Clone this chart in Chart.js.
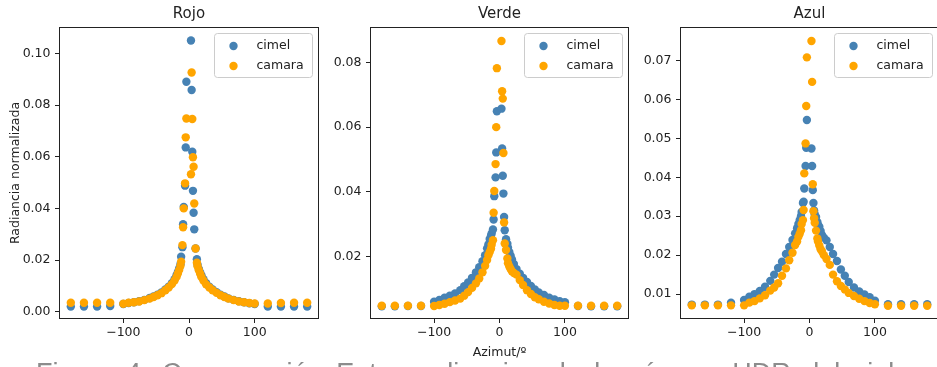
<!DOCTYPE html>
<html>
<head>
<meta charset="utf-8">
<script src="https://cdn.jsdelivr.net/npm/chart.js@4.4.1/dist/chart.umd.min.js"></script>
<style>
html, body { margin: 0; padding: 0; background: #fff; overflow: hidden; width: 937px; height: 367px; }
canvas { position: absolute; top: 0; }
.caption { position: absolute; left: 36px; top: 360px; font: 27px "Liberation Sans", sans-serif; color: #8c8c8c; white-space: nowrap; line-height: 27px; word-spacing: 6px; }
</style>
</head>
<body>
<canvas id="rojo" width="330" height="367" style="left:0px"></canvas>
<canvas id="verde" width="310" height="367" style="left:330px"></canvas>
<canvas id="azul" width="310" height="367" style="left:640px"></canvas>
<div class="caption">Figura 4. Comparación Entre radiancias de la cámara HDR del cielo y cimel</div>
<script>
// azimut (grados), compartido por los tres paneles
const azimut = [-180, -160, -140, -120, -100, -92, -84, -76, -68, -60, -54, -48, -42, -36, -31, -26, -22, -19, -17, -15, -13, -12, -10, -9, -8, -6, -5, -4,
  3, 4, 5, 6, 7, 8, 10, 12, 13, 15, 17, 19, 22, 26, 31, 36, 42, 48, 54, 60, 68, 76, 84, 92, 100, 120, 140, 160, 180];

const rojoCimel = [0.0020, 0.0020, 0.0020, 0.0022, 0.0030, 0.0034, 0.0037, 0.0041, 0.0046, 0.0053, 0.0059, 0.0066, 0.0075, 0.0086, 0.0097, 0.0111, 0.0126, 0.0141, 0.0153, 0.0168, 0.0184, 0.0213, 0.0250, 0.0339, 0.0406, 0.0488, 0.0636, 0.0890,
  0.1050, 0.0858, 0.0619, 0.0468, 0.0383, 0.0319, 0.0245, 0.0203, 0.0182, 0.0166, 0.0152, 0.0140, 0.0126, 0.0111, 0.0097, 0.0086, 0.0076, 0.0066, 0.0059, 0.0052, 0.0046, 0.0041, 0.0037, 0.0033, 0.0030, 0.0020, 0.0020, 0.0020, 0.0020];
const rojoCamara = [0.0035, 0.0035, 0.0035, 0.0035, 0.0031, 0.0035, 0.0037, 0.0040, 0.0045, 0.0051, 0.0057, 0.0064, 0.0072, 0.0083, 0.0094, 0.0107, 0.0121, 0.0135, 0.0148, 0.0162, 0.0178, 0.0194, 0.0258, 0.0327, 0.0400, 0.0497, 0.0675, 0.0748,
  0.0532, 0.0926, 0.0746, 0.0598, 0.0561, 0.0419, 0.0245, 0.0190, 0.0176, 0.0161, 0.0147, 0.0134, 0.0121, 0.0106, 0.0094, 0.0083, 0.0073, 0.0064, 0.0057, 0.0051, 0.0045, 0.0040, 0.0037, 0.0034, 0.0032, 0.0032, 0.0034, 0.0035, 0.0035];

const verdeCimel = [0.0047, 0.0047, 0.0048, 0.0048, 0.0061, 0.0067, 0.0074, 0.0080, 0.0087, 0.0097, 0.0109, 0.0121, 0.0135, 0.0152, 0.0168, 0.0186, 0.0205, 0.0226, 0.0238, 0.0255, 0.0265, 0.0272, 0.0284, 0.0315, 0.0387, 0.0445, 0.0522, 0.0649,
  0.0657, 0.0534, 0.0450, 0.0395, 0.0323, 0.0282, 0.0254, 0.0240, 0.0228, 0.0215, 0.0203, 0.0192, 0.0178, 0.0162, 0.0148, 0.0135, 0.0122, 0.0110, 0.0099, 0.0090, 0.0082, 0.0074, 0.0068, 0.0063, 0.0060, 0.0048, 0.0047, 0.0047, 0.0047];
const verdeCamara = [0.0049, 0.0049, 0.0049, 0.0049, 0.0048, 0.0051, 0.0055, 0.0060, 0.0065, 0.0071, 0.0080, 0.0091, 0.0104, 0.0118, 0.0133, 0.0152, 0.0172, 0.0190, 0.0205, 0.0215, 0.0225, 0.0237, 0.0251, 0.0336, 0.0403, 0.0486, 0.0600, 0.0782,
  0.0866, 0.0711, 0.0688, 0.0520, 0.0306, 0.0241, 0.0221, 0.0195, 0.0180, 0.0170, 0.0162, 0.0155, 0.0150, 0.0145, 0.0128, 0.0113, 0.0097, 0.0085, 0.0075, 0.0069, 0.0061, 0.0056, 0.0051, 0.0049, 0.0049, 0.0049, 0.0049, 0.0049, 0.0049];

const azulCimel = [0.0073, 0.0073, 0.0073, 0.0078, 0.0085, 0.0093, 0.0100, 0.0108, 0.0119, 0.0134, 0.0150, 0.0167, 0.0183, 0.0203, 0.0221, 0.0239, 0.0256, 0.0269, 0.0280, 0.0290, 0.0300, 0.0311, 0.0334, 0.0337, 0.0371, 0.0429, 0.0476, 0.0547,
  0.0474, 0.0429, 0.0367, 0.0334, 0.0315, 0.0305, 0.0298, 0.0285, 0.0278, 0.0273, 0.0262, 0.0252, 0.0245, 0.0238, 0.0221, 0.0203, 0.0185, 0.0163, 0.0147, 0.0131, 0.0117, 0.0107, 0.0099, 0.0092, 0.0083, 0.0074, 0.0074, 0.0074, 0.0074];
const azulCamara = [0.0071, 0.0071, 0.0071, 0.0071, 0.0071, 0.0078, 0.0082, 0.0089, 0.0097, 0.0109, 0.0117, 0.0128, 0.0147, 0.0166, 0.0187, 0.0206, 0.0226, 0.0235, 0.0247, 0.0255, 0.0264, 0.0280, 0.0290, 0.0316, 0.0410, 0.0487, 0.0583, 0.0708,
  0.0750, 0.0645, 0.0382, 0.0313, 0.0295, 0.0283, 0.0263, 0.0243, 0.0235, 0.0225, 0.0215, 0.0210, 0.0200, 0.0190, 0.0175, 0.0150, 0.0133, 0.0121, 0.0112, 0.0103, 0.0095, 0.0088, 0.0082, 0.0077, 0.0074, 0.0070, 0.0070, 0.0070, 0.0070];

const xTicks = [-100, 0, 100];
const rojoTicks = [0.00, 0.02, 0.04, 0.06, 0.08, 0.10];
const verdeTicks = [0.02, 0.04, 0.06, 0.08];
const azulTicks = [0.01, 0.02, 0.03, 0.04, 0.05, 0.06, 0.07];

const FONT = 'DejaVu Sans';
const INK = '#222';
const BLUE = '#4682B4';
const ORANGE = '#FFA500';

const decorPlugin = {
  id: 'decor',
  afterDraw(chart, args, opts) {
    const { ctx, chartArea: a } = chart;
    ctx.save();
    // marco
    ctx.strokeStyle = INK;
    ctx.lineWidth = 1;
    ctx.strokeRect(Math.round(a.left) + 0.5, Math.round(a.top) + 0.5, Math.round(a.right - a.left) - 1, Math.round(a.bottom - a.top) - 1);
    // titulo
    ctx.fillStyle = INK;
    ctx.font = '15px "' + FONT + '"';
    ctx.textAlign = 'center';
    ctx.textBaseline = 'middle';
    ctx.fillText(opts.title, (a.left + a.right) / 2, 14);
    // leyenda
    const w = 98, h = 44;
    const lx = a.right - 6.5 - w, ly = a.top + 6.5;
    ctx.beginPath();
    ctx.roundRect(lx, ly, w, h, 3);
    ctx.fillStyle = 'rgba(255,255,255,0.8)';
    ctx.fill();
    ctx.strokeStyle = '#cccccc';
    ctx.stroke();
    const items = [['cimel', BLUE], ['camara', ORANGE]];
    ctx.font = '12.5px "' + FONT + '"';
    ctx.textAlign = 'left';
    items.forEach(([label, color], i) => {
      const yy = ly + 12.5 + i * 20;
      ctx.beginPath();
      ctx.arc(lx + 19, yy, 4.2, 0, Math.PI * 2);
      ctx.fillStyle = color;
      ctx.fill();
      ctx.fillStyle = INK;
      ctx.fillText(label, lx + 42, yy);
    });
    ctx.restore();
  }
};

function makePanel(id, title, cimel, camara, yMin, yMax, yTicks, yWidth, showYTitle, showXTitle) {
  const pts = vals => azimut.map((x, i) => ({ x: x, y: vals[i] }));
  new Chart(document.getElementById(id), {
    type: 'scatter',
    data: {
      datasets: [
        { label: 'cimel', data: pts(cimel), backgroundColor: BLUE, pointRadius: 4.2, pointBorderWidth: 0, order: 2 },
        { label: 'camara', data: pts(camara), backgroundColor: ORANGE, pointRadius: 4.2, pointBorderWidth: 0, order: 1 }
      ]
    },
    options: {
      responsive: false,
      animation: false,
      devicePixelRatio: 1,
      layout: { padding: { left: 0, right: 11, top: 27, bottom: 0 } },
      plugins: {
        legend: { display: false },
        tooltip: { enabled: false },
        decor: { title: title }
      },
      scales: {
        x: {
          type: 'linear',
          min: -198, max: 198,
          afterBuildTicks: s => { s.ticks = xTicks.map(v => ({ value: v })); },
          afterFit: s => { s.height = 48; },
          grid: { drawOnChartArea: false, tickLength: 4, tickColor: INK },
          border: { display: false },
          ticks: {
            color: INK, padding: 2.5, maxRotation: 0, autoSkip: false,
            font: { family: FONT, size: 12.5 },
            callback: v => v < 0 ? '\u2212' + Math.abs(v) : String(v)
          },
          title: { display: showXTitle, text: 'Azimut/º', color: INK, font: { family: FONT, size: 12.5 }, padding: { top: 0, bottom: 6.5 } }
        },
        y: {
          type: 'linear',
          min: yMin, max: yMax,
          afterBuildTicks: s => { s.ticks = yTicks.map(v => ({ value: v })); },
          afterFit: s => { s.width = yWidth; },
          grid: { drawOnChartArea: false, tickLength: 4, tickColor: INK },
          border: { display: false },
          ticks: {
            color: INK, padding: 4.5, autoSkip: false,
            font: { family: FONT, size: 12.5 },
            callback: v => v.toFixed(2)
          },
          title: { display: showYTitle, text: 'Radiancia normalizada', color: INK, font: { family: FONT, size: 12.5 }, padding: { top: 8.5, bottom: 0 } }
        }
      }
    },
    plugins: [decorPlugin]
  });
}

makePanel('rojo', 'Rojo', rojoCimel, rojoCamara, -0.0028, 0.1102, rojoTicks, 59, true, false);
makePanel('verde', 'Verde', verdeCimel, verdeCamara, 0.0008, 0.0909, verdeTicks, 40, false, true);
makePanel('azul', 'Azul', azulCimel, azulCamara, 0.0036, 0.0786, azulTicks, 40, false, false);
</script>
</body>
</html>
